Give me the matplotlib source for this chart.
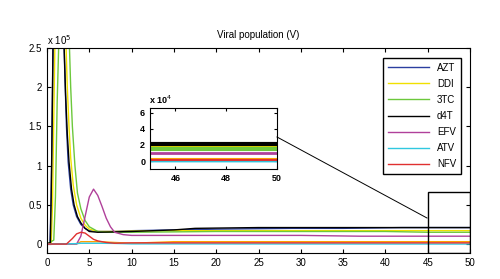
import matplotlib
matplotlib.use("Agg")
import matplotlib.pyplot as plt
from matplotlib.patches import Rectangle
from matplotlib.lines import Line2D

plt.rcParams['font.family'] = ['Liberation Sans', 'DejaVu Sans']

# viral population, units of 1e5 (values above 2.5 are off the chart)
azt_t = [0, 0.35, 0.5, 0.65, 0.8, 1.3, 1.9, 2.1, 2.3, 2.5, 2.8, 3.1, 3.5, 4, 4.5, 5, 6, 8, 10, 15, 20, 29, 35, 42, 45, 50]
azt_v = [0, 0.02, 0.6, 2.0, 3.5, 4.5, 3.0, 2.2, 1.5, 1.05, 0.7, 0.5, 0.35, 0.25, 0.2, 0.17, 0.16, 0.16, 0.17, 0.18, 0.19, 0.2, 0.2, 0.21, 0.21, 0.21]

ddi_t = [0, 0.5, 0.65, 0.8, 1.0, 1.5, 2.2, 2.4, 2.6, 2.8, 3.1, 3.5, 4, 4.5, 5, 6, 8, 10, 15, 20, 30, 40, 50]
ddi_v = [0, 0.02, 0.5, 1.6, 3.0, 4.2, 2.7, 2.0, 1.5, 1.1, 0.75, 0.5, 0.33, 0.24, 0.19, 0.16, 0.16, 0.165, 0.17, 0.17, 0.17, 0.17, 0.17]

tc3_t = [0, 0.8, 1.0, 1.2, 1.5, 2.0, 2.6, 2.8, 3.0, 3.3, 3.6, 4, 4.5, 5, 6, 7, 8, 10, 15, 20, 30, 40, 45, 50]
tc3_v = [0, 0.05, 0.6, 1.8, 3.0, 3.8, 2.7, 2.0, 1.5, 1.0, 0.65, 0.45, 0.3, 0.22, 0.16, 0.15, 0.15, 0.15, 0.155, 0.16, 0.16, 0.16, 0.15, 0.15]

d4t_t = [0, 0.4, 0.55, 0.7, 0.85, 1.3, 2.0, 2.2, 2.4, 2.6, 2.9, 3.2, 3.6, 4, 4.5, 5, 6, 8, 10, 15, 17.5, 25, 35, 50]
d4t_v = [0, 0.02, 1.0, 2.4, 3.6, 4.5, 2.6, 1.9, 1.4, 1.05, 0.7, 0.5, 0.35, 0.27, 0.2, 0.16, 0.15, 0.155, 0.16, 0.18, 0.2, 0.21, 0.21, 0.21]

efv_t = [0, 3.5, 4, 4.5, 5, 5.5, 6, 6.5, 7, 7.5, 8, 9, 10, 15, 20, 25, 30, 37, 40, 50]
efv_v = [0, 0, 0.1, 0.35, 0.6, 0.7, 0.62, 0.48, 0.33, 0.22, 0.15, 0.12, 0.11, 0.11, 0.11, 0.11, 0.11, 0.1, 0.1, 0.1]

atv_t = [0, 3.5, 4, 6, 8, 10, 50]
atv_v = [0, 0.005, 0.01, 0.01, 0.008, 0.002, 0.0]

nfv_t = [0, 2.3, 3, 3.5, 4, 4.5, 5, 5.5, 6, 7, 8, 10, 50]
nfv_v = [0, 0, 0.07, 0.13, 0.15, 0.14, 0.1, 0.06, 0.04, 0.02, 0.01, 0.015, 0.015]

extra_t = [0, 3.5, 4, 6, 8, 10, 15, 50]
extra_v = [0, 0, 0.03, 0.03, 0.02, 0.01, 0.03, 0.03]

series = [
    ('AZT', azt_t, azt_v, '#2b3fa0', 2.5),
    ('DDI', ddi_t, ddi_v, '#f0e000', 1.5),
    ('3TC', tc3_t, tc3_v, '#6cc83c', 3),
    ('d4T', d4t_t, d4t_v, 'black', 3),
    ('EFV', efv_t, efv_v, '#b0409a', 2),
    ('ATV', atv_t, atv_v, '#30c8e0', 2),
    ('NFV', nfv_t, nfv_v, '#e03030', 1.5),
]

fig = plt.figure(figsize=(5, 2.79), dpi=100)
ax = fig.add_axes([0.094, 0.093, 0.846, 0.735])

ax.plot(extra_t, extra_v, color='#ffa000', lw=1)
for name, t, v, c, w in series:
    ax.plot(t, v, color=c, lw=1, label=name)

ax.set_xlim(0, 50)
ax.set_ylim(-0.115, 2.5)
ax.set_xticks(range(0, 51, 5))
ax.set_yticks([0, 0.5, 1, 1.5, 2, 2.5])
ax.set_yticklabels(['0', '0.5', '1', '1.5', '2', '2.5'])
ax.tick_params(direction='in', top=True, right=True, labelsize=7, length=3)
ax.set_title('Viral population (V)', fontsize=7, pad=7)
ax.text(0.0, 1.005, r'x 10$^5$', transform=ax.transAxes, fontsize=7, va='bottom')

ax.legend(loc='upper right', bbox_to_anchor=(0.99, 0.975), fontsize=7,
          frameon=True, fancybox=False, edgecolor='black', framealpha=1,
          handlelength=4.2, labelspacing=0.62, borderpad=0.5)

# zoom box over the last five days
ax.add_patch(Rectangle((45, -0.115), 5, 0.775, fill=False, ec='black', lw=1, zorder=5))

# inset
ins = fig.add_axes([0.30, 0.394, 0.254, 0.219])
ins.plot(extra_t, [v * 10 for v in extra_v], color='#ffa000', lw=1.5)
for name, t, v, c, w in series:
    ins.plot(t, [x * 10 for x in v], color=c, lw=w)
ins.set_xlim(45, 50)
ins.set_ylim(-1.0, 6.6)
ins.set_xticks([46, 48, 50])
ins.set_yticks([0, 2, 4, 6])
ins.tick_params(direction='in', top=True, right=True, labelsize=6.5, length=2)
for lab in ins.get_xticklabels() + ins.get_yticklabels():
    lab.set_fontweight('bold')
ins.text(-0.01, 1.03, r'x 10$^4$', transform=ins.transAxes, fontsize=6.5,
         fontweight='bold', va='bottom', ha='left')

fig.add_artist(Line2D([277 / 500, 427 / 500], [1 - 137 / 279, 1 - 218 / 279],
                      color='black', lw=0.7))

fig.savefig('out.png', dpi=100)
